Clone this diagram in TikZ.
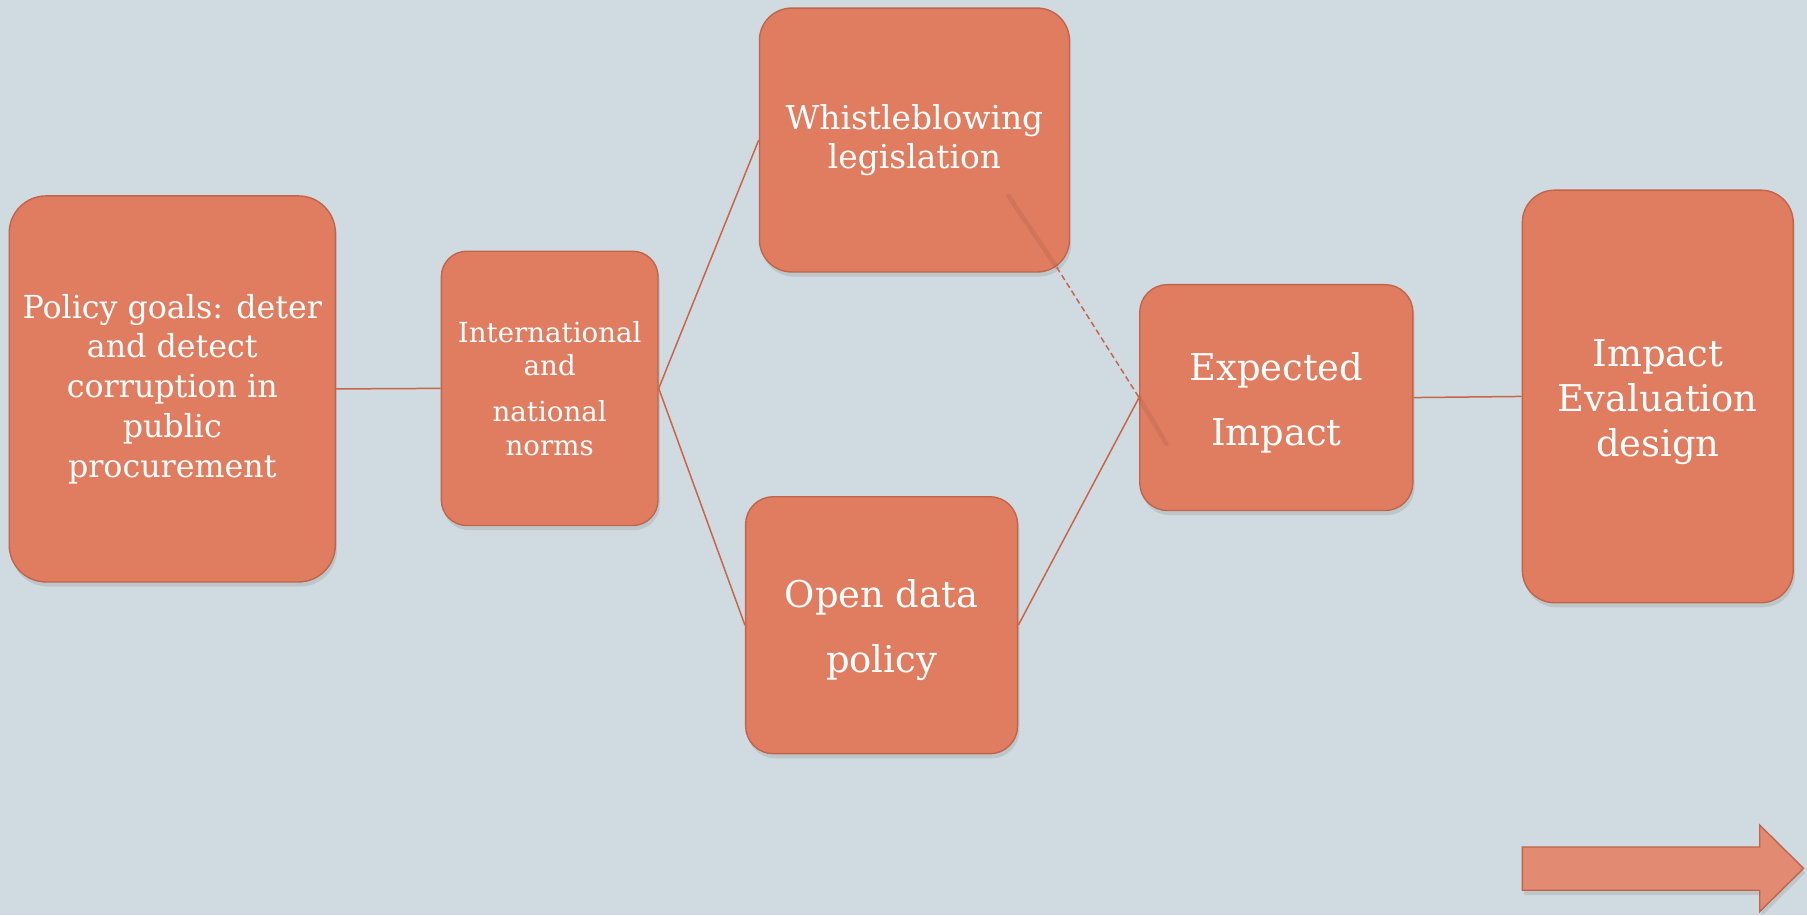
\documentclass[tikz,border=0pt]{standalone}
\usepackage{fontspec}
\setmainfont{DejaVu Serif}
\usetikzlibrary{shadows,calc}
\definecolor{bg}{HTML}{CFDBE0}
\definecolor{boxfill}{HTML}{E07C5F}
\definecolor{boxedge}{HTML}{C0654C}
\definecolor{linkc}{HTML}{C9664A}
\definecolor{arrowfill}{HTML}{E38A72}
\begin{document}
\begin{tikzpicture}[x=1pt,y=-1pt,
  stagebox/.style={draw=boxedge, line width=1.2pt, fill=boxfill, text=white,
    align=center, inner sep=0pt,
    drop shadow={opacity=0.22, shadow xshift=1.5pt, shadow yshift=-4pt}},
  link/.style={draw=linkc, line width=1.3pt},
  streak/.style={draw=black, opacity=0.06, line width=4pt, line cap=round}]
\fill[bg] (0,0) rectangle (1568,794);
\useasboundingbox (0,0) rectangle (1568,794);

\node[stagebox, minimum width=283pt, minimum height=335pt, rounded corners=32pt,
  font=\fontsize{27.5pt}{34.5pt}\selectfont] (goals) at (149.5,337.5)
  {Policy goals: deter\\and detect\\corruption in\\public\\procurement};
\node[stagebox, minimum width=188pt, minimum height=238pt, rounded corners=22pt,
  font=\fontsize{24pt}{29pt}\selectfont] (norms) at (477,337)
  {International\\and\\[11pt]national\\norms};
\node[stagebox, minimum width=269pt, minimum height=229pt, rounded corners=28pt,
  font=\fontsize{28.5pt}{34pt}\selectfont] (whistle) at (793.5,121.5)
  {Whistleblowing\\legislation};
\node[stagebox, minimum width=236pt, minimum height=223pt, rounded corners=24pt,
  font=\fontsize{32pt}{56pt}\selectfont] (open) at (765,542.5)
  {\rule{0pt}{33pt}Open data\\policy};
\node[stagebox, minimum width=237pt, minimum height=196pt, rounded corners=24pt,
  font=\fontsize{32pt}{56pt}\selectfont] (expected) at (1107.5,345)
  {\rule{0pt}{33pt}Expected\\Impact};
\node[stagebox, minimum width=235pt, minimum height=358pt, rounded corners=28pt,
  font=\fontsize{32pt}{39pt}\selectfont] (design) at (1438.5,344)
  {\rule{0pt}{33pt}Impact\\Evaluation\\design};

\coordinate (streakA) at (875,170);
\coordinate (wsx) at (917,232);
\coordinate (streakB) at (1012,385);

\draw[streak] (streakA) -- (wsx);
\draw[streak] (expected.west) -- (streakB);

\draw[link] (goals.east) -- (norms.west);
\draw[link] (norms.east) -- (whistle.west);
\draw[link] (norms.east) -- (open.west);
\draw[link, dashed, dash pattern=on 5pt off 3pt] (wsx) -- (expected.west);
\draw[link] (open.east) -- (expected.west);
\draw[link] (expected.east) -- (design.west);

\draw[draw=boxedge, line width=1.2pt, fill=arrowfill,
  drop shadow={opacity=0.22, shadow xshift=1.5pt, shadow yshift=-4pt}]
  (1321,735) -- (1527,735) -- (1527,716) -- (1565,753.5) -- (1527,791)
  -- (1527,772.5) -- (1321,772.5) -- cycle;
\end{tikzpicture}
\end{document}
